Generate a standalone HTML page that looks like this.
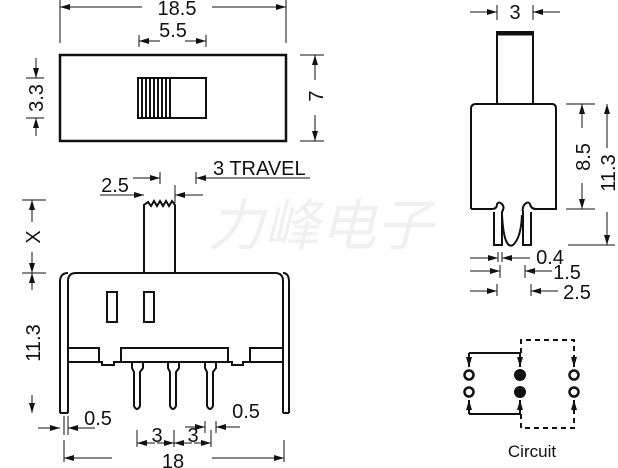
<!DOCTYPE html>
<html><head><style>body{margin:0;background:#fff}svg{display:block}text{font-family:"Liberation Sans",Arial,sans-serif;fill:#111}line.r{marker-end:url(#a)}</style></head><body>
<svg width="618" height="468" viewBox="0 0 618 468" xmlns="http://www.w3.org/2000/svg">
<defs>
<marker id="a" viewBox="0 0 10 6" refX="10" refY="3" markerWidth="11" markerHeight="6" orient="auto" markerUnits="userSpaceOnUse"><path d="M0,0L10,3L0,6z" fill="#111"/></marker>
</defs>
<text x="320" y="245" font-size="56" font-style="italic" style="fill:#f0f0f0;font-family:'Noto Sans CJK SC',sans-serif" text-anchor="middle">力峰电子</text>
<g stroke="#111" fill="none" stroke-width="1">
<rect x="60" y="55" width="226" height="86" stroke-width="2.5"/>
<rect x="138" y="78" width="68" height="40" stroke-width="2"/>
<path d="M142 78V118M146 78V118M150 78V118M154 78V118M158 78V118M162 78V118M166 78V118M170 78V118" stroke-width="2"/>
<path d="M60 0V43M286 0V43M139 35V47M206 35V47"/>
<line class="r" x1="142" y1="7" x2="60" y2="7"/><line class="r" x1="212" y1="7" x2="286" y2="7"/>
<line class="r" x1="160" y1="41" x2="139" y2="41"/><line class="r" x1="185" y1="41" x2="206" y2="41"/>
<path d="M26 78H44M26 118H44M300 55H324M300 141H324"/>
<line class="r" x1="36" y1="58" x2="36" y2="78"/><line class="r" x1="36" y1="136" x2="36" y2="118"/>
<line class="r" x1="315" y1="80" x2="315" y2="55"/><line class="r" x1="315" y1="115" x2="315" y2="141"/>
<path d="M68 413V281Q68 273 76 273H275Q283 273 283 281V413" stroke-width="2"/>
<path d="M60 413V282Q60 273 68 273M289 413V282Q289 273 283 273M60 413H68M283 413H289" stroke-width="2"/>
<path d="M144 273V205L148 202L151 206L154 201L157 206L160 201L163 206L166 201L169 206L172 201L175 205V273" stroke-width="2"/>
<rect x="107" y="292" width="10" height="30" stroke-width="2"/>
<rect x="144" y="292" width="10" height="30" stroke-width="2"/>
<path d="M68 348H99V362H102V365H114V362H121V348H228V362H232V365H243V362H250V348H283M68 362H99M250 362H283M121 362H228" stroke-width="2"/>
<path d="M132 362V368L134 372V406Q137 412 140 406V372L143 368V362M168 362V368L170 372V406Q173 412 176 406V372L179 368V362M205 362V368L207 372V406Q210 412 213 406V372L216 368V362" stroke-width="2"/>
<path d="M22 200H46M22 273H46M64 416V435M68 416V435M137 430V447M174 430V447M211 430V447M64 440V462M284 440V462M160 172V184M175 185V203M196 172V184M205 421V433M216 421V433"/>
<line class="r" x1="32" y1="222" x2="32" y2="200"/><line class="r" x1="32" y1="252" x2="32" y2="273"/>
<line class="r" x1="32" y1="290" x2="32" y2="273"/><line class="r" x1="32" y1="395" x2="32" y2="413"/>
<line class="r" x1="38" y1="428" x2="60" y2="428"/><line class="r" x1="95" y1="428" x2="68" y2="428"/>
<line class="r" x1="155" y1="443" x2="137" y2="443"/><line class="r" x1="157" y1="443" x2="174" y2="443"/>
<line class="r" x1="192" y1="443" x2="174" y2="443"/><line class="r" x1="194" y1="443" x2="211" y2="443"/>
<line class="r" x1="112" y1="458" x2="64" y2="458"/><line class="r" x1="212" y1="458" x2="284" y2="458"/>
<line class="r" x1="133" y1="178" x2="160" y2="178"/><line class="r" x1="310" y1="178" x2="196" y2="178"/>
<line class="r" x1="100" y1="195" x2="144" y2="195"/><line class="r" x1="203" y1="195" x2="175" y2="195"/>
<line class="r" x1="185" y1="427" x2="205" y2="427"/><line class="r" x1="240" y1="427" x2="216" y2="427"/>
<rect x="497" y="32" width="36" height="72" stroke-width="2"/>
<path d="M497 34H533" stroke-width="3"/>
<path d="M471 209V109Q471 104 476 104H552Q556 104 556 109V209H536Q531 209 530 204Q528 201 525 204Q522 207 523 212V245H531V212M471 209H492Q497 209 497 204Q499 201 502 204Q505 207 502 212V245H494V212" stroke-width="2"/>
<path d="M502 215Q504 250 513 245Q521 238 522 215" stroke-width="2"/>
<path d="M497 5V20M533 5V20M566 104H595M566 209H595M568 245H615M498 252V262M502 252V262M500 265V278M525 265V278M497 284V296M531 284V296"/>
<line class="r" x1="470" y1="12" x2="497" y2="12"/><line class="r" x1="560" y1="12" x2="533" y2="12"/>
<line class="r" x1="582" y1="128" x2="582" y2="104"/><line class="r" x1="582" y1="183" x2="582" y2="209"/>
<line class="r" x1="607" y1="148" x2="607" y2="104"/><line class="r" x1="607" y1="212" x2="607" y2="245"/>
<line class="r" x1="470" y1="258" x2="498" y2="258"/><line class="r" x1="530" y1="258" x2="502" y2="258"/>
<line class="r" x1="470" y1="271" x2="500" y2="271"/><line class="r" x1="552" y1="271" x2="525" y2="271"/>
<line class="r" x1="470" y1="291" x2="497" y2="291"/><line class="r" x1="558" y1="291" x2="531" y2="291"/>
<path d="M469 353H520" stroke-width="2"/><path d="M469 414H520" stroke-width="2"/>
<line class="r" x1="520" y1="353" x2="520" y2="367" stroke-width="2"/><line class="r" x1="469" y1="353" x2="469" y2="367" stroke-width="2"/>
<line class="r" x1="520" y1="414" x2="520" y2="400" stroke-width="2"/><line class="r" x1="469" y1="414" x2="469" y2="400" stroke-width="2"/>
<path d="M521 353V340H574V366M521 414V428H574V401" stroke-width="2" stroke-dasharray="5,4"/>
<line class="r" x1="574" y1="358" x2="574" y2="367" stroke-width="2"/><line class="r" x1="574" y1="409" x2="574" y2="400" stroke-width="2"/>
<circle cx="469" cy="375" r="4.5" stroke-width="2.5"/><circle cx="469" cy="392" r="4.5" stroke-width="2.5"/>
<circle cx="574" cy="375" r="4.5" stroke-width="2.5"/><circle cx="574" cy="392" r="4.5" stroke-width="2.5"/>
<circle cx="520" cy="375" r="5.5" fill="#111"/><circle cx="520" cy="392" r="5.5" fill="#111"/>
</g>
<g font-size="20">
<text x="177" y="15" text-anchor="middle">18.5</text>
<text x="173" y="37" text-anchor="middle">5.5</text>
<text transform="translate(43,98) rotate(-90)" text-anchor="middle">3.3</text>
<text transform="translate(323,96) rotate(-90)" text-anchor="middle">7</text>
<text x="213" y="175">3 TRAVEL</text>
<text x="115" y="192" text-anchor="middle">2.5</text>
<text transform="translate(40,237) rotate(-90)" text-anchor="middle">X</text>
<text transform="translate(40,343) rotate(-90)" text-anchor="middle">11.3</text>
<text x="98" y="425" text-anchor="middle">0.5</text>
<text x="246" y="418" text-anchor="middle">0.5</text>
<text x="157" y="442" text-anchor="middle">3</text>
<text x="193" y="442" text-anchor="middle">3</text>
<text x="173" y="468" text-anchor="middle">18</text>
<text x="515" y="19" text-anchor="middle">3</text>
<text transform="translate(590,157) rotate(-90)" text-anchor="middle">8.5</text>
<text transform="translate(615,173) rotate(-90)" text-anchor="middle">11.3</text>
<text x="550" y="264" text-anchor="middle">0.4</text>
<text x="567" y="279" text-anchor="middle">1.5</text>
<text x="577" y="299" text-anchor="middle">2.5</text>
<text x="532" y="457" text-anchor="middle" font-size="17">Circuit</text>
</g>
</svg>
</body></html>
